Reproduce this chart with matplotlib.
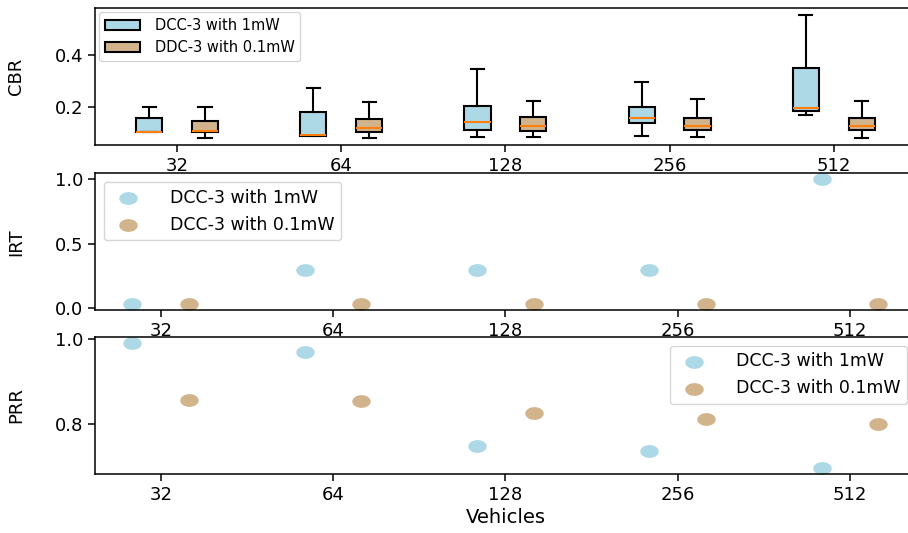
import numpy as np
import matplotlib
matplotlib.use('Agg')
import matplotlib.pyplot as plt
from matplotlib.path import Path
from matplotlib.patches import Patch

vehicles = ['32', '64', '128', '256', '512']

# CBR box statistics per vehicle count
cbr_hi_med = [0.103, 0.092, 0.141, 0.156, 0.195]
cbr_hi_q1 = [0.103, 0.089, 0.113, 0.137, 0.185]
cbr_hi_q3 = [0.156, 0.180, 0.204, 0.199, 0.349]
cbr_hi_lo = [0.103, 0.087, 0.083, 0.088, 0.169]
cbr_hi_hi = [0.200, 0.272, 0.345, 0.297, 0.554]

cbr_lo_med = [0.108, 0.118, 0.127, 0.127, 0.127]
cbr_lo_q1 = [0.103, 0.103, 0.108, 0.113, 0.111]
cbr_lo_q3 = [0.146, 0.153, 0.160, 0.156, 0.156]
cbr_lo_lo = [0.080, 0.080, 0.083, 0.083, 0.080]
cbr_lo_hi = [0.200, 0.220, 0.224, 0.229, 0.224]

irt_hi = [0.035, 0.30, 0.30, 0.30, 1.00]
irt_lo = [0.035, 0.035, 0.035, 0.035, 0.035]

prr_hi = [0.990, 0.969, 0.750, 0.738, 0.699]
prr_lo = [0.858, 0.855, 0.826, 0.812, 0.802]

c_hi = 'lightblue'
c_lo = 'tan'

plt.rcParams['axes.linewidth'] = 1.1
plt.rcParams['xtick.major.width'] = 1.1
plt.rcParams['ytick.major.width'] = 1.1
plt.rcParams['xtick.major.size'] = 5
plt.rcParams['ytick.major.size'] = 5
plt.rcParams['xtick.labelsize'] = 13
plt.rcParams['ytick.labelsize'] = 13

# wide oval dot
t = np.linspace(0, 2 * np.pi, 60)
oval = Path(np.column_stack([1.5 * np.cos(t), np.sin(t)]), closed=True)

fig, (ax1, ax2, ax3) = plt.subplots(3, 1, figsize=(9.08, 5.33), dpi=100)
ax1.set_position([0.1046, 0.728, 0.904, 0.257])
ax2.set_position([0.1046, 0.418, 0.904, 0.257])
ax3.set_position([0.1046, 0.111, 0.904, 0.257])

x = np.arange(len(vehicles))


def stats(med, q1, q3, lo, hi):
    return [dict(med=m, q1=a, q3=b, whislo=l, whishi=h, fliers=[])
            for m, a, b, l, h in zip(med, q1, q3, lo, hi)]


box_kw = dict(widths=0.16, patch_artist=True, manage_ticks=False,
              boxprops=dict(edgecolor='black', linewidth=1.5),
              whiskerprops=dict(color='black', linewidth=1.5),
              capprops=dict(color='black', linewidth=1.5),
              medianprops=dict(color='tab:orange', linewidth=1.5))
b1 = ax1.bxp(stats(cbr_hi_med, cbr_hi_q1, cbr_hi_q3, cbr_hi_lo, cbr_hi_hi),
             positions=x - 0.17, **box_kw)
b2 = ax1.bxp(stats(cbr_lo_med, cbr_lo_q1, cbr_lo_q3, cbr_lo_lo, cbr_lo_hi),
             positions=x + 0.17, **box_kw)
for p in b1['boxes']:
    p.set_facecolor(c_hi)
for p in b2['boxes']:
    p.set_facecolor(c_lo)
ax1.set_xlim(-0.5, 4.5)
ax1.set_ylim(0.054, 0.581)
ax1.set_yticks([0.2, 0.4])
ax1.set_xticks(x)
ax1.set_xticklabels(vehicles)
ax1.set_ylabel('CBR', fontsize=13)
ax1.legend(handles=[Patch(facecolor=c_hi, edgecolor='black', linewidth=1.5, label='DCC-3 with 1mW'),
                    Patch(facecolor=c_lo, edgecolor='black', linewidth=1.5, label='DDC-3 with 0.1mW')],
           loc='upper left', fontsize=10.5, borderaxespad=0.3,
           handlelength=2.4, handletextpad=1.0)

ax2.scatter(x - 0.165, irt_hi, s=150, marker=oval, color=c_hi, label='DCC-3 with 1mW')
ax2.scatter(x + 0.165, irt_lo, s=150, marker=oval, color=c_lo, label='DCC-3 with 0.1mW')
ax2.set_xticks(x)
ax2.set_xticklabels(vehicles)
ax2.set_yticks([0.0, 0.5, 1.0])
ax2.set_ylabel('IRT', fontsize=13)
ax2.legend(loc='upper left', fontsize=12.5, handletextpad=1.4)

ax3.scatter(x - 0.165, prr_hi, s=150, marker=oval, color=c_hi, label='DCC-3 with 1mW')
ax3.scatter(x + 0.165, prr_lo, s=150, marker=oval, color=c_lo, label='DCC-3 with 0.1mW')
ax3.set_xticks(x)
ax3.set_xticklabels(vehicles)
ax3.set_yticks([0.8, 1.0])
ax3.set_ylabel('PRR', fontsize=13)
ax3.set_xlabel('Vehicles', fontsize=14, labelpad=3)
ax3.legend(loc='upper right', fontsize=12.5, handletextpad=1.4)

for ax in (ax1, ax2, ax3):
    ax.yaxis.set_label_coords(-0.085, 0.5)

fig.savefig('out.png', dpi=100)
